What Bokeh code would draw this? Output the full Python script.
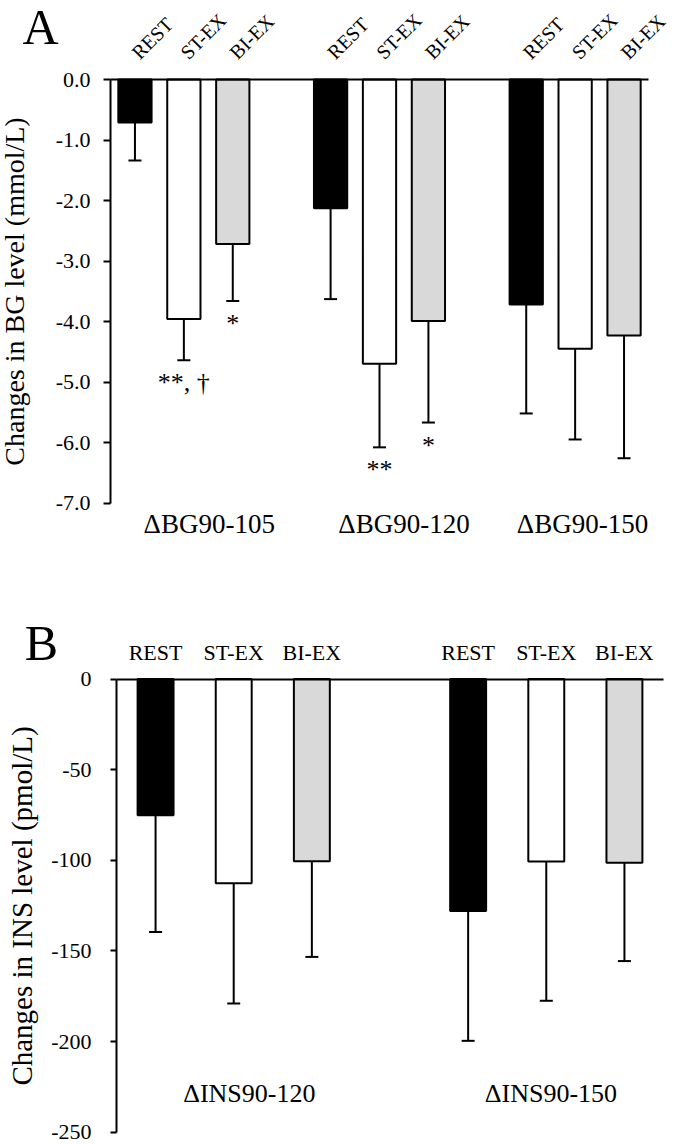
import numpy as np
from bokeh.plotting import figure
from bokeh.layouts import column
from bokeh.models import (ColumnDataSource, FixedTicker, LinearAxis, Range1d,
                          Whisker, TeeHead, NumeralTickFormatter)
from bokeh.core.properties import value
from bokeh.embed import file_html
from bokeh.resources import INLINE

# ---------------- data ----------------
conditions = ["REST", "ST-EX", "BI-EX"]

bg_periods = ["ΔBG90-105", "ΔBG90-120", "ΔBG90-150"]
bg_rest_mean = [-0.71, -2.13, -3.72]
bg_stex_mean = [-3.96, -4.70, -4.45]
bg_biex_mean = [-2.72, -3.99, -4.23]
bg_rest_sd = [0.63, 1.50, 1.80]
bg_stex_sd = [0.68, 1.38, 1.50]
bg_biex_sd = [0.94, 1.68, 2.03]
bg_rest_marks = ["", "", ""]
bg_stex_marks = ["**, †", "**", ""]
bg_biex_marks = ["*", "*", ""]
bg_ticks = [0.0, -1.0, -2.0, -3.0, -4.0, -5.0, -6.0, -7.0]

ins_periods = ["ΔINS90-120", "ΔINS90-150"]
ins_rest_mean = [-75.2, -128.0]
ins_stex_mean = [-112.7, -100.7]
ins_biex_mean = [-100.5, -101.3]
ins_rest_sd = [64.3, 71.6]
ins_stex_sd = [66.3, 76.8]
ins_biex_sd = [52.8, 54.3]
ins_ticks = [0, -50, -100, -150, -200, -250]

# ---------------- layout / styling ----------------
FONT = "Liberation Serif"
FILLS = ["black", "white", "#d9d9d9"]
GROUP_STEP = 4
BG_LABEL_SHIFT = [0.52, 0.50, 0.15]
INS_LABEL_SHIFT = [0.20, 0.06]
W = 677


def build_source(means, sds, marks):
    xs, mean, low, col, txt = [], [], [], [], []
    for i, (m, s, mk) in enumerate(zip(means, sds, marks)):
        for g in range(len(m)):
            xs.append(g * GROUP_STEP + i)
            mean.append(m[g])
            low.append(m[g] - s[g])
            col.append(FILLS[i])
            txt.append(mk[g])
    return ColumnDataSource(dict(x=xs, mean=mean, low=low, color=col, mark=txt))


def make_fig(height, n_groups, ticks, px_left, px_right, px_top, px_bottom):
    """Frame covers the whole canvas; the data box [-0.5, xmax] x [ymin, ymax]
    is mapped to the given pixel box; axes sit at fixed locations."""
    x0, x1 = -0.5, (n_groups - 1) * GROUP_STEP + 2.5
    y0, y1 = min(ticks), max(ticks)
    kx = (x1 - x0) / (px_right - px_left)
    ky = (y1 - y0) / (px_bottom - px_top)
    xr = Range1d(x0 - px_left * kx, x1 + (W - px_right) * kx)
    yr = Range1d(y0 - (height - px_bottom) * ky, y1 + px_top * ky)
    p = figure(width=W, height=height, x_range=xr, y_range=yr,
               x_axis_location=None, y_axis_location=None,
               output_backend="svg", toolbar_location=None, min_border=0)
    p.grid.visible = False
    p.outline_line_color = None
    p.background_fill_color = "white"
    p.border_fill_color = "white"

    top = LinearAxis(fixed_location=y1, bounds=(x0, x1),
                     ticker=FixedTicker(ticks=[g * GROUP_STEP + i for g in range(n_groups) for i in range(3)]),
                     major_label_overrides={g * GROUP_STEP + i: conditions[i]
                                            for g in range(n_groups) for i in range(3)},
                     axis_line_width=2, axis_line_color="black",
                     major_tick_line_color=None, minor_tick_line_color=None,
                     major_label_text_font=FONT, major_label_text_color="black")
    p.add_layout(top, "above")

    left = LinearAxis(fixed_location=x0, bounds=(y0, y1), ticker=FixedTicker(ticks=ticks),
                      axis_line_width=2, axis_line_color="black",
                      major_tick_line_width=2, major_tick_line_color="black",
                      major_tick_in=0, minor_tick_line_color=None,
                      major_label_text_font=FONT, major_label_text_color="black",
                      major_label_text_font_size="22px",
                      axis_label_text_font=FONT, axis_label_text_font_style="normal",
                      axis_label_text_color="black")
    p.add_layout(left, "left")
    return p, top, left


def add_bars(p, src, width):
    p.vbar(x="x", top=0, bottom="mean", width=width, source=src,
           fill_color="color", line_color="black", line_width=2)
    w = Whisker(source=src, base="x", upper="mean", lower="low",
                dimension="height", line_width=2, line_color="black",
                upper_head=None,
                lower_head=TeeHead(size=13, line_width=2, line_color="black"))
    p.add_layout(w)


# ---------------- panel A ----------------
srcA = build_source([bg_rest_mean, bg_stex_mean, bg_biex_mean],
                    [bg_rest_sd, bg_stex_sd, bg_biex_sd],
                    [bg_rest_marks, bg_stex_marks, bg_biex_marks])
nA = len(bg_periods)
pA, topA, leftA = make_fig(568, nA, bg_ticks, 110, 648, 79, 502.5)
add_bars(pA, srcA, 0.68)
pA.text(x="x", y="low", text="mark", source=srcA, text_align="center",
        text_baseline="top", y_offset=8, text_font=value(FONT),
        text_font_size="26px", text_color="black")
topA.major_label_orientation = np.pi / 4
topA.major_label_text_font_size = "20px"
topA.major_label_standoff = 18
leftA.formatter = NumeralTickFormatter(format="0.0")
leftA.major_tick_out = 7
leftA.major_label_standoff = 13
leftA.axis_label = "Changes in BG level (mmol/L)"
leftA.axis_label_text_font_size = "28px"
leftA.axis_label_standoff = 23

catA_pos = [g * GROUP_STEP + 1 + BG_LABEL_SHIFT[g] for g in range(nA)]
catA = LinearAxis(fixed_location=min(bg_ticks), ticker=FixedTicker(ticks=catA_pos),
                  major_label_overrides={catA_pos[g]: bg_periods[g] for g in range(nA)},
                  axis_line_color=None, major_tick_line_color=None,
                  minor_tick_line_color=None, major_label_standoff=0,
                  major_label_text_font=FONT, major_label_text_font_size="27px",
                  major_label_text_color="black")
pA.add_layout(catA, "below")
pA.text(x=[-2.30], y=[0.86], text=["A"], text_align="left",
        text_baseline="middle", text_font=value(FONT),
        text_font_size="50px", text_color="black")

# ---------------- panel B ----------------
srcB = build_source([ins_rest_mean, ins_stex_mean, ins_biex_mean],
                    [ins_rest_sd, ins_stex_sd, ins_biex_sd],
                    [["", ""], ["", ""], ["", ""]])
nB = len(ins_periods)
pB, topB, leftB = make_fig(576, nB, ins_ticks, 116, 663, 110.5, 563.7)
add_bars(pB, srcB, 0.46)
topB.major_label_text_font_size = "22px"
topB.major_label_standoff = 8
leftB.formatter = NumeralTickFormatter(format="0")
leftB.major_tick_out = 6
leftB.major_label_standoff = 19
leftB.axis_label = "Changes in INS level (pmol/L)"
leftB.axis_label_text_font_size = "29px"
leftB.axis_label_standoff = 10
pB.text(x=[g * GROUP_STEP + 1 + INS_LABEL_SHIFT[g] for g in range(nB)], y=[-228.4] * nB,
        text=ins_periods, text_align="center", text_baseline="middle",
        text_font=value(FONT), text_font_size="26px", text_color="black")
pB.text(x=[-1.675], y=[19.6], text=["B"], text_align="left",
        text_baseline="middle", text_font=value(FONT),
        text_font_size="50px", text_color="black")

layout = column(pA, pB)
open("out.html", "w").write(file_html(layout, INLINE))
